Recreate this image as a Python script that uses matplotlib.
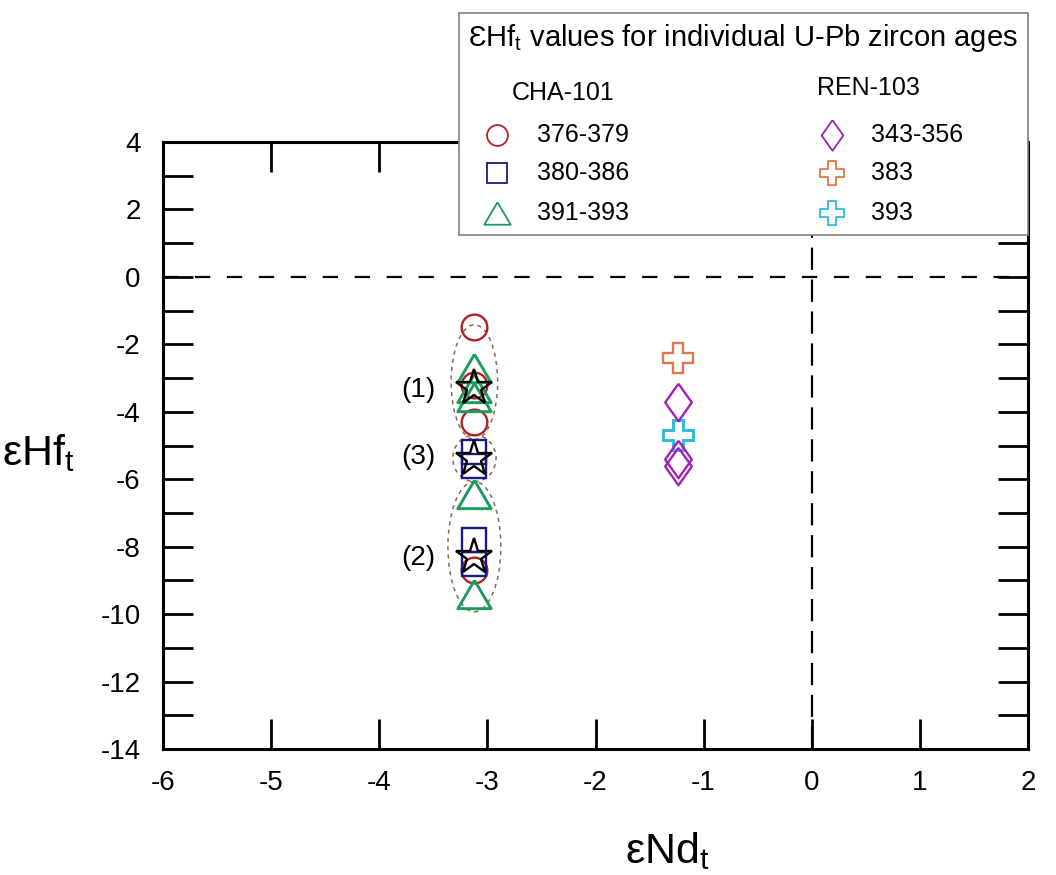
import matplotlib
matplotlib.use("Agg")
import matplotlib.pyplot as plt
from matplotlib.patches import Ellipse, Rectangle
import numpy as np

plt.rcParams['font.family'] = ['Liberation Sans', 'DejaVu Sans']
plt.rcParams['mathtext.fontset'] = 'custom'
plt.rcParams['mathtext.rm'] = 'Liberation Sans'
plt.rcParams['lines.scale_dashes'] = False
plt.rcParams['axes.unicode_minus'] = False

# ---------------- data ----------------
x_cha = -3.12
x_ren = -1.24
cha_circle_y = [-1.5, -3.2, -4.3, -8.7]        # 376-379
cha_square_y = [-5.2, -5.6, -7.8, -8.5]        # 380-386
cha_triangle_y = [-2.7, -3.3, -3.55, -6.45, -9.4]  # 391-393
cha_star_y = [-3.3, -5.4, -8.3]                # averages (1), (3), (2)
ren_diamond_y = [-3.7, -5.4, -5.6]             # 343-356
ren_383_y = [-2.4]
ren_393_y = [-4.7]

group_labels = ["(1)", "(3)", "(2)"]
group_label_y = [-3.35, -5.33, -8.34]
ellipse_center_y = [-3.12, -5.38, -8.0]
ellipse_height = [3.4, 1.38, 3.86]
ellipse_width = [0.43, 0.40, 0.49]

x_ticks = list(range(-6, 3))
y_ticks = list(range(-14, 5))
y_tick_labels = [str(v) if v % 2 == 0 else "" for v in y_ticks]

legend_title = "Ɛ" + "Hf" + "$\\mathregular{_t}$" + " values for individual U-Pb zircon ages"
legend_headers = ["CHA-101", "REN-103"]
legend_cha_labels = ["376-379", "380-386", "391-393"]
legend_ren_labels = ["343-356", "383", "393"]

# colours
c_circle = "#b22222"
c_square = "#1a1a80"
c_triangle = "#1f9a5e"
c_diamond = "#a020b8"
c_383 = "#e0784a"
c_393 = "#2fbcd8"
c_ellipse = "#8b6a50"

diamond_marker = [(0, 1), (0.71, 0), (0, -1), (-0.71, 0), (0, 1)]
tri_marker = [(0, 0.85), (1.0, -0.85), (-1.0, -0.85), (0, 0.85)]

fig = plt.figure(figsize=(10.56, 8.75), dpi=100)
ax = fig.add_axes([163 / 1056, 126 / 875, 865 / 1056, 607 / 875])
ax.set_xlim(-6, 2)
ax.set_ylim(-14, 4)

# reference lines
ax.axhline(0, color="black", lw=1.6, ls=(0, (11, 12)), zorder=1)
ax.axvline(0, color="black", lw=1.6, ls=(0, (16, 7)), zorder=1)

# ellipses
for cy, h, w in zip(ellipse_center_y, ellipse_height, ellipse_width):
    ax.add_patch(Ellipse((x_cha, cy), w, h, fill=False, ec=c_ellipse,
                         lw=1.1, ls=(0, (3, 3)), zorder=2))

mew = 1.7
ax.plot([x_cha] * len(cha_circle_y), cha_circle_y, ls="none", marker="o",
        ms=18.5, mfc="none", mec=c_circle, mew=mew, zorder=3)
ax.plot([x_cha] * len(cha_square_y), cha_square_y, ls="none", marker="s",
        ms=17, mfc="none", mec=c_square, mew=mew, zorder=4)
ax.plot([x_cha] * len(cha_triangle_y), cha_triangle_y, ls="none", marker=tri_marker,
        ms=24, mfc="none", mec=c_triangle, mew=mew + 0.4, zorder=5)
ax.plot([x_cha] * len(cha_star_y), cha_star_y, ls="none", marker="*",
        ms=27, mfc="none", mec="black", mew=1.7, zorder=6)

ax.plot([x_ren] * len(ren_383_y), ren_383_y, ls="none", marker="P",
        ms=21, mfc="none", mec=c_383, mew=mew, zorder=3)
ax.plot([x_ren] * len(ren_393_y), ren_393_y, ls="none", marker="P",
        ms=21, mfc="none", mec=c_393, mew=mew + 0.4, zorder=3)
ax.plot([x_ren] * len(ren_diamond_y), ren_diamond_y, ls="none", marker=diamond_marker,
        ms=27, mfc="none", mec=c_diamond, mew=mew, zorder=4)

for lab, ly in zip(group_labels, group_label_y):
    ax.text(-3.64, ly, lab, fontsize=20, ha="center", va="center", zorder=7)

# axes style
for s in ax.spines.values():
    s.set_linewidth(2.2)
ax.set_xticks(x_ticks)
ax.set_yticks(y_ticks)
ax.set_yticklabels(y_tick_labels)
ax.tick_params(axis="both", direction="in", length=21.5, width=2.0,
               top=True, right=True, labelsize=20)
ax.tick_params(axis="x", pad=15)
ax.tick_params(axis="y", pad=16)

fig.text(2 / 1056, 1 - 465 / 875, "εHf$\\mathregular{_t}$", fontsize=31,
         ha="left", va="baseline")
fig.text(625 / 1056, 1 - 863 / 875, "εNd$\\mathregular{_t}$", fontsize=31,
         ha="left", va="baseline")

# ---------------- legend (figure pixel overlay) ----------------
lax = fig.add_axes([0, 0, 1, 1], zorder=10)
lax.set_xlim(0, 1056)
lax.set_ylim(875, 0)
lax.axis("off")
lax.patch.set_alpha(0)
lax.add_patch(Rectangle((459, 13), 569, 222, fc="white", ec="#808080", lw=1.2))
lax.text(468, 38, legend_title, fontsize=21, ha="left", va="center")

row_y = [135, 173, 213]
lax.text(512, 93, legend_headers[0], fontsize=18, ha="left", va="center")
lax.text(817, 88, legend_headers[1], fontsize=18, ha="left", va="center")

cha_styles = [("o", 15, c_circle), ("s", 15, c_square), (tri_marker, 19, c_triangle)]
for (mk, ms, col), lab, ry in zip(cha_styles, legend_cha_labels, row_y):
    lax.plot([497], [ry], ls="none", marker=mk, ms=ms, mfc="none", mec=col, mew=1.3)
    lax.text(537, ry, lab, fontsize=18, ha="left", va="center")

ren_styles = [(diamond_marker, 22, c_diamond), ("P", 17, c_383), ("P", 17, c_393)]
for (mk, ms, col), lab, ry in zip(ren_styles, legend_ren_labels, row_y):
    lax.plot([832], [ry], ls="none", marker=mk, ms=ms, mfc="none", mec=col, mew=1.3)
    lax.text(871, ry, lab, fontsize=18, ha="left", va="center")

fig.savefig("out.png", dpi=100)
